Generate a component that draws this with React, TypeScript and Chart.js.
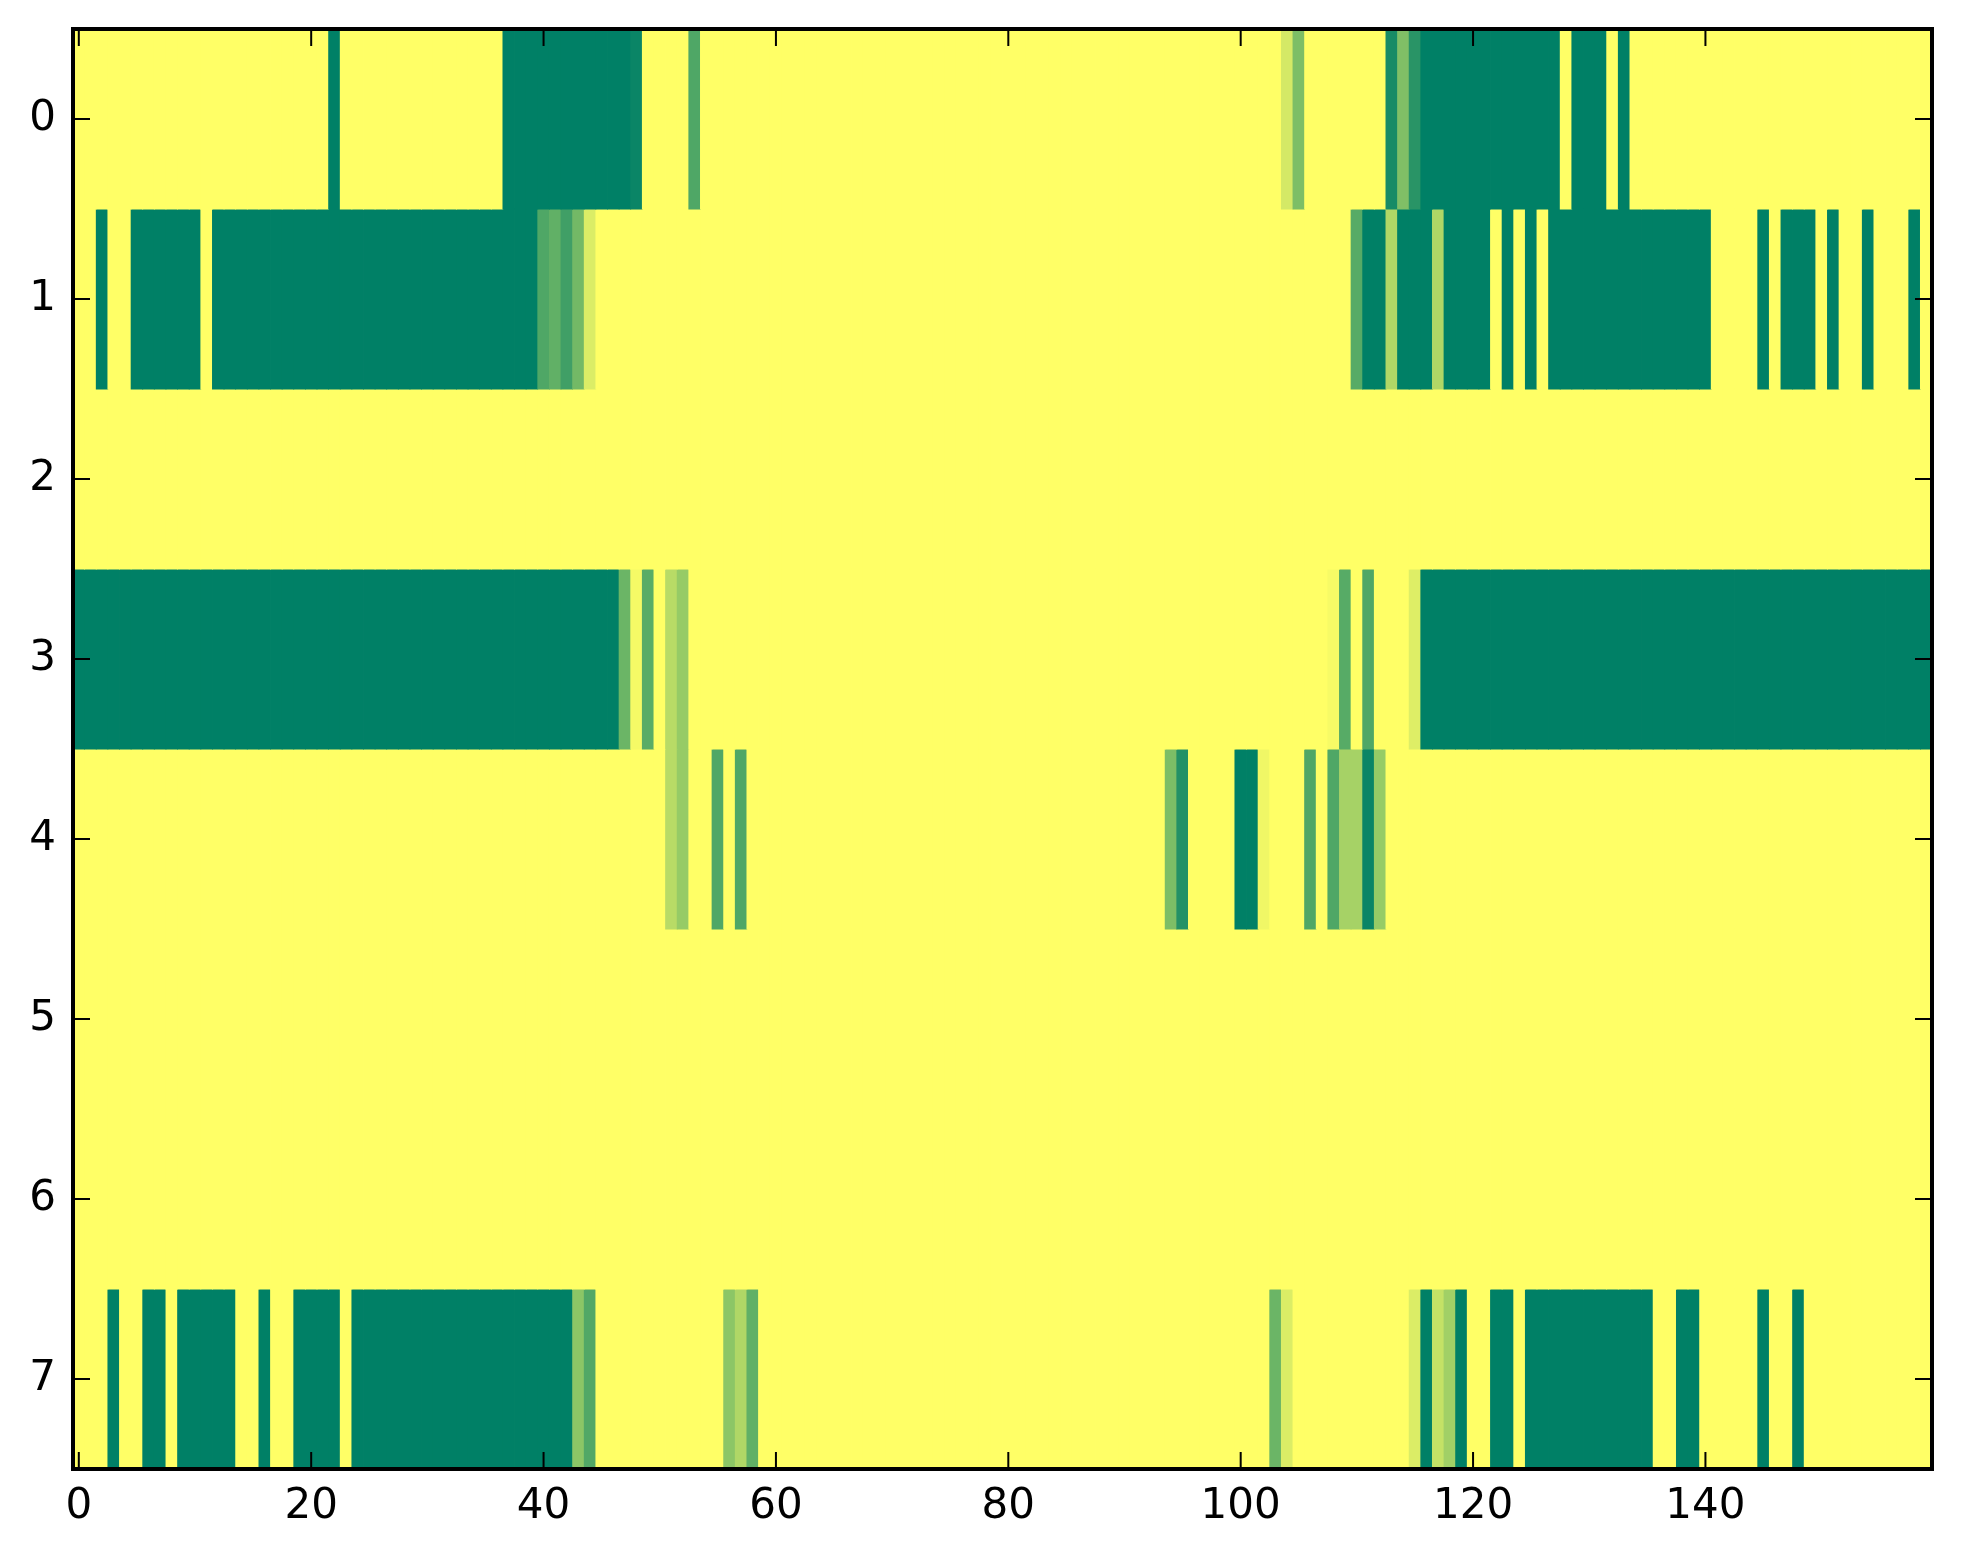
import React, { useEffect, useRef } from 'react';
import { Chart, registerables } from 'chart.js';

Chart.register(...registerables);

const xTickValues = [0, 20, 40, 60, 80, 100, 120, 140];
const yTickValues = [0, 1, 2, 3, 4, 5, 6, 7];

const row0 = [
  0,0,0,0,0,0,0,0,0,0,0,0,0,0,0,0,0,0,0,0,
  0,0,1,0,0,0,0,0,0,0,0,0,0,0,0,0,0,1,1,1,
  1,1,1,1,1,1,1,1,0.96,0,0,0,0,0.69,0,0,0,0,0,0,
  0,0,0,0,0,0,0,0,0,0,0,0,0,0,0,0,0,0,0,0,
  0,0,0,0,0,0,0,0,0,0,0,0,0,0,0,0,0,0,0,0,
  0,0,0,0,0.17,0.51,0,0,0,0,0,0,0,0.91,0.5,0.84,1,1,1,1,
  1,1,1,1,1,1,1,1,0,1,1,1,0,1,0,0,0,0,0,0,
  0,0,0,0,0,0,0,0,0,0,0,0,0,0,0,0,0,0,0,0,
];
const row1 = [
  0,0,1,0,0,1,1,1,1,1,1,0,1,1,1,1,1,1,1,1,
  1,1,1,1,1,1,1,1,1,1,1,1,1,1,1,1,1,1,1,1,
  0.69,0.62,0.75,0.55,0.14,0,0,0,0,0,0,0,0,0,0,0,0,0,0,0,
  0,0,0,0,0,0,0,0,0,0,0,0,0,0,0,0,0,0,0,0,
  0,0,0,0,0,0,0,0,0,0,0,0,0,0,0,0,0,0,0,0,
  0,0,0,0,0,0,0,0,0,0,0.66,1,1,0.31,1,1,1,0.31,1,1,
  1,1,0,1,0,1,0,1,1,1,1,1,1,1,1,1,1,1,1,1,
  1,0,0,0,0,1,0,1,1,1,0,1,0,0,1,0,0,0,1,0,
];
const row2 = [
  0,0,0,0,0,0,0,0,0,0,0,0,0,0,0,0,0,0,0,0,
  0,0,0,0,0,0,0,0,0,0,0,0,0,0,0,0,0,0,0,0,
  0,0,0,0,0,0,0,0,0,0,0,0,0,0,0,0,0,0,0,0,
  0,0,0,0,0,0,0,0,0,0,0,0,0,0,0,0,0,0,0,0,
  0,0,0,0,0,0,0,0,0,0,0,0,0,0,0,0,0,0,0,0,
  0,0,0,0,0,0,0,0,0,0,0,0,0,0,0,0,0,0,0,0,
  0,0,0,0,0,0,0,0,0,0,0,0,0,0,0,0,0,0,0,0,
  0,0,0,0,0,0,0,0,0,0,0,0,0,0,0,0,0,0,0,0,
];
const row3 = [
  1,1,1,1,1,1,1,1,1,1,1,1,1,1,1,1,1,1,1,1,
  1,1,1,1,1,1,1,1,1,1,1,1,1,1,1,1,1,1,1,1,
  1,1,1,1,1,1,1,0.58,0.04,0.65,0,0.28,0.41,0,0,0,0,0,0,0,
  0,0,0,0,0,0,0,0,0,0,0,0,0,0,0,0,0,0,0,0,
  0,0,0,0,0,0,0,0,0,0,0,0,0,0,0,0,0,0,0,0,
  0,0,0,0,0,0,0,0,0.03,0.66,0,0.69,0,0,0,0.13,1,1,1,1,
  1,1,1,1,1,1,1,1,1,1,1,1,1,1,1,1,1,1,1,1,
  1,1,1,1,1,1,1,1,1,1,1,1,1,1,1,1,1,1,1,1,
];
const row4 = [
  0,0,0,0,0,0,0,0,0,0,0,0,0,0,0,0,0,0,0,0,
  0,0,0,0,0,0,0,0,0,0,0,0,0,0,0,0,0,0,0,0,
  0,0,0,0,0,0,0,0,0,0,0,0.28,0.41,0,0,0.69,0,0.69,0,0,
  0,0,0,0,0,0,0,0,0,0,0,0,0,0,0,0,0,0,0,0,
  0,0,0,0,0,0,0,0,0,0,0,0,0,0,0.51,0.86,0,0,0,0,
  1,1,0.06,0,0,0,0.69,0,0.69,0.35,0.35,0.96,0.41,0,0,0,0,0,0,0,
  0,0,0,0,0,0,0,0,0,0,0,0,0,0,0,0,0,0,0,0,
  0,0,0,0,0,0,0,0,0,0,0,0,0,0,0,0,0,0,0,0,
];
const row5 = [
  0,0,0,0,0,0,0,0,0,0,0,0,0,0,0,0,0,0,0,0,
  0,0,0,0,0,0,0,0,0,0,0,0,0,0,0,0,0,0,0,0,
  0,0,0,0,0,0,0,0,0,0,0,0,0,0,0,0,0,0,0,0,
  0,0,0,0,0,0,0,0,0,0,0,0,0,0,0,0,0,0,0,0,
  0,0,0,0,0,0,0,0,0,0,0,0,0,0,0,0,0,0,0,0,
  0,0,0,0,0,0,0,0,0,0,0,0,0,0,0,0,0,0,0,0,
  0,0,0,0,0,0,0,0,0,0,0,0,0,0,0,0,0,0,0,0,
  0,0,0,0,0,0,0,0,0,0,0,0,0,0,0,0,0,0,0,0,
];
const row6 = [
  0,0,0,0,0,0,0,0,0,0,0,0,0,0,0,0,0,0,0,0,
  0,0,0,0,0,0,0,0,0,0,0,0,0,0,0,0,0,0,0,0,
  0,0,0,0,0,0,0,0,0,0,0,0,0,0,0,0,0,0,0,0,
  0,0,0,0,0,0,0,0,0,0,0,0,0,0,0,0,0,0,0,0,
  0,0,0,0,0,0,0,0,0,0,0,0,0,0,0,0,0,0,0,0,
  0,0,0,0,0,0,0,0,0,0,0,0,0,0,0,0,0,0,0,0,
  0,0,0,0,0,0,0,0,0,0,0,0,0,0,0,0,0,0,0,0,
  0,0,0,0,0,0,0,0,0,0,0,0,0,0,0,0,0,0,0,0,
];
const row7 = [
  0,0,0,1,0,0,1,1,0,1,1,1,1,1,0,0,1,0,0,1,
  1,1,1,0,1,1,1,1,1,1,1,1,1,1,1,1,1,1,1,1,
  1,1,1,0.45,0.68,0,0,0,0,0,0,0,0,0,0,0,0.45,0.31,0.62,0,
  0,0,0,0,0,0,0,0,0,0,0,0,0,0,0,0,0,0,0,0,
  0,0,0,0,0,0,0,0,0,0,0,0,0,0,0,0,0,0,0,0,
  0,0,0,0.58,0.14,0,0,0,0,0,0,0,0,0,0,0.14,1,0.23,0.37,1,
  0,0,1,1,0,1,1,1,1,1,1,1,1,1,1,1,0,0,1,1,
  0,0,0,0,0,1,0,0,1,0,0,0,0,0,0,0,0,0,0,0,
];

const rows = [row0, row1, row2, row3, row4, row5, row6, row7];

// matplotlib "summer_r" colormap
function summerR(v: number): string {
  const t = 1 - v;
  const r = Math.round(255 * t);
  const g = Math.round(255 * (0.5 + 0.5 * t));
  const b = 102;
  return `rgb(${r},${g},${b})`;
}

const frame = {
  id: 'frame',
  afterDatasetsDraw(chart: any) {
    const { ctx, chartArea, scales } = chart;
    const { left, right, top, bottom } = chartArea;
    const x = scales.x;
    const y = scales.y;
    const len = 17;
    ctx.save();
    ctx.strokeStyle = '#000';
    ctx.lineWidth = 2;
    ctx.beginPath();
    for (const t of xTickValues) {
      const px = x.getPixelForValue(t);
      ctx.moveTo(px, bottom);
      ctx.lineTo(px, bottom - len);
      ctx.moveTo(px, top);
      ctx.lineTo(px, top + len);
    }
    for (const t of yTickValues) {
      const py = y.getPixelForValue(t);
      ctx.moveTo(left, py);
      ctx.lineTo(left + len, py);
      ctx.moveTo(right, py);
      ctx.lineTo(right - len, py);
    }
    ctx.stroke();
    ctx.lineWidth = 4;
    ctx.strokeRect(left, top, right - left, bottom - top);
    ctx.restore();
  },
};

export default function App() {
  const ref = useRef<HTMLCanvasElement>(null);
  useEffect(() => {
    const datasets = rows.map((vals, r) => ({
      label: `row ${r}`,
      data: vals.map((v, i) => ({ x: i, y: [r - 0.5, r + 0.5] })),
      backgroundColor: vals.map(summerR),
      borderWidth: 0,
      barPercentage: 1,
      categoryPercentage: 1,
      grouped: false,
      inflateAmount: 0.4,
    }));
    const tickFont = { family: 'DejaVu Sans', size: 42 };
    const chart = new Chart(ref.current as HTMLCanvasElement, {
      type: 'bar',
      data: { datasets } as any,
      plugins: [frame],
      options: {
        animation: false,
        responsive: true,
        maintainAspectRatio: false,
        devicePixelRatio: 1,
        events: [],
        layout: { padding: { top: 29, right: 31, left: 0, bottom: 0 } },
        plugins: { legend: { display: false }, tooltip: { enabled: false } },
        scales: {
          x: {
            type: 'linear',
            min: -0.5,
            max: 159.5,
            offset: false,
            grid: { display: false, drawTicks: false, offset: false },
            border: { display: false },
            ticks: { font: tickFont, color: '#000', padding: 13, maxRotation: 0, autoSkip: false },
            afterBuildTicks: (scale: any) => {
              scale.ticks = xTickValues.map((v) => ({ value: v }));
            },
            afterFit: (scale: any) => {
              scale.height = 95;
              scale.paddingLeft = 0;
              scale.paddingRight = 0;
            },
          },
          y: {
            type: 'linear',
            reverse: true,
            min: -0.5,
            max: 7.5,
            grid: { display: false, drawTicks: false },
            border: { display: false },
            ticks: { font: tickFont, color: '#000', padding: 17, autoSkip: false },
            afterBuildTicks: (scale: any) => {
              scale.ticks = yTickValues.map((v) => ({ value: v }));
            },
            afterFit: (scale: any) => {
              scale.width = 73;
              scale.paddingTop = 0;
              scale.paddingBottom = 0;
            },
          },
        },
      } as any,
    });
    return () => chart.destroy();
  }, []);
  return (
    <div style={{ position: 'absolute', left: 0, top: 0, width: 1963, height: 1564, background: '#fff' }}>
      <canvas ref={ref} />
    </div>
  );
}
